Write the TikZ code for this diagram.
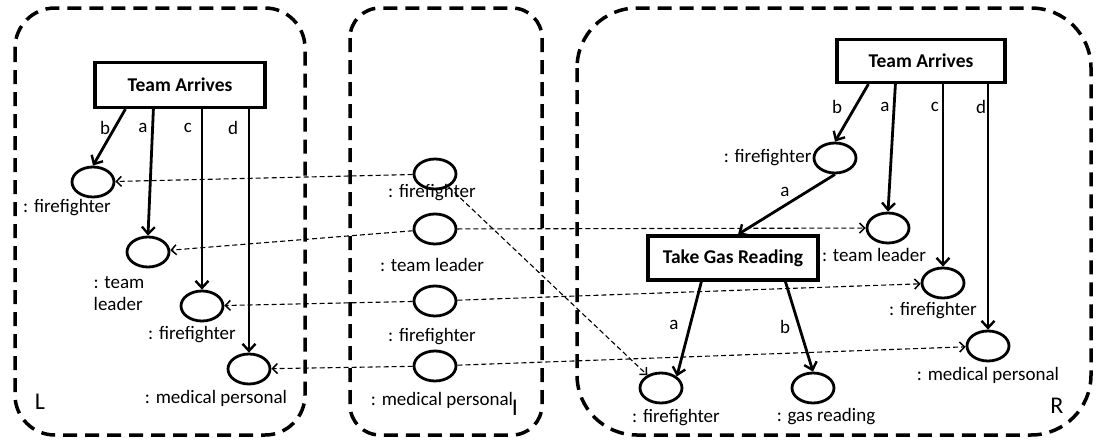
\documentclass[tikz,border=0pt]{standalone}
\usepackage{fontspec}
\setmainfont{Carlito}
\usetikzlibrary{shapes.geometric,arrows.meta}

\begin{document}
\begin{tikzpicture}
  [x=1pt,y=-1pt,font=\fontsize{19}{22}\selectfont,
   every node/.style={inner sep=1pt},
   obj/.style={ellipse,draw,line width=2.8pt,minimum width=42pt,minimum height=30pt,inner sep=0pt},
   act/.style={rectangle,draw,line width=3.2pt,font=\fontsize{19.5}{22}\selectfont\bfseries},
   flow/.style={line width=2.8pt,-{Straight Barb[length=7pt,width=13pt,line width=2.4pt]}},
   map/.style={line width=1.1pt,dash pattern=on 5pt off 3pt,-{Straight Barb[length=5pt,width=10pt,line width=1.5pt]}},
   region/.style={line width=3.5pt,dash pattern=on 14pt off 8pt},
   side/.style={font=\fontsize{24}{26}\selectfont}]
  \useasboundingbox (0,0) rectangle (1097,439);

  % L
  \draw[region,rounded corners=40pt] (15,8) rectangle (305,435);
  \node[act,minimum width=170pt,minimum height=45pt] (taL) at (180,85) {Team Arrives};
  \node[obj] (ffL1) at (93,182) {};
  \node[obj] (tlL)  at (148,252) {};
  \node[obj] (ffL2) at (202,306) {};
  \node[obj] (mpL)  at (249,369) {};
  \node (ffL1t) at (67,208) {: firefighter};
  \node[align=left] (tlLt) at (119,294) {: team\\leader};
  \node (ffL2t) at (192,335) {: firefighter};
  \node (mpLt) at (216,398) {: medical personal};
  \node[side] (nL) at (40,402) {L};
  \node (eLb) at (105,128) {b};
  \node (eLa) at (143,128) {a};
  \node (eLc) at (188,128) {c};
  \node (eLd) at (233,128) {d};
  \draw[flow] ([xshift=32pt]taL.south west) -- (ffL1.north);
  \draw[flow] ([xshift=60pt]taL.south west) -- (tlL.north);
  \draw[flow] (taL.south -| ffL2) -- (ffL2.north);
  \draw[flow] (taL.south -| mpL) -- (mpL.north);

  % I
  \draw[region,rounded corners=30pt] (350,8) rectangle (542,435);
  \node[obj] (ffI1) at (435,174) {};
  \node[obj] (tlI)  at (435,229) {};
  \node[obj] (ffI2) at (435,301) {};
  \node[obj] (mpI)  at (435,366) {};
  \node (ffI1t) at (432,193) {: firefighter};
  \node (tlIt) at (432,265) {: team leader};
  \node (ffI2t) at (432,337) {: firefighter};
  \node (mpIt) at (442,400) {: medical personal};
  \node[side] (nI) at (515,408) {I};

  % R
  \draw[region,rounded corners=60pt] (577,8) rectangle (1091,435);
  \node[act,minimum width=168pt,minimum height=43pt] (taR) at (921,61) {Team Arrives};
  \node[obj] (ffR1) at (835,158) {};
  \node[obj] (tlR)  at (888,228) {};
  \node[obj] (ffR2) at (943,283) {};
  \node[obj] (mpR)  at (988,346) {};
  \node[act,minimum width=170pt,minimum height=44pt] (tgR) at (733,258) {Take Gas Reading};
  \node[obj] (ffR3) at (661,388) {};
  \node[obj] (grR)  at (813,388) {};
  \node[anchor=east] (ffR1t) at (ffR1.west) {: firefighter};
  \node (tlRt) at (874,255) {: team leader};
  \node (ffR2t) at (933,311) {: firefighter};
  \node (mpRt) at (988,375) {: medical personal};
  \node (ffR3t) at (676,418) {: firefighter};
  \node (grRt) at (826,417) {: gas reading};
  \node[side] (nR) at (1057,406) {R};
  \node (eRb) at (837,107) {b};
  \node (eRa) at (885,107) {a};
  \node (eRc) at (935,107) {c};
  \node (eRd) at (981,107) {d};
  \node (eRa2) at (785,192) {a};
  \node (eRa3) at (674,325) {a};
  \node (eRb2) at (785,327) {b};
  \draw[flow] ([xshift=33pt]taR.south west) -- (ffR1.north);
  \draw[flow] ([xshift=60pt]taR.south west) -- (tlR.north);
  \draw[flow] (taR.south -| ffR2) -- (ffR2.north);
  \draw[flow] (taR.south -| mpR) -- (mpR.north);
  \draw[flow] (ffR1.south) -- ([xshift=5pt]tgR.north);
  \draw[flow] ([xshift=55pt]tgR.south west) -- (ffR3.north east);
  \draw[flow] ([xshift=139pt]tgR.south west) -- (grR.north);

  \foreach \from/\to in {ffI1/ffL1,tlI/tlL,ffI2/ffL2,mpI/mpL,tlI/tlR,ffI2/ffR2,mpI/mpR,ffI1/ffR3}
    \draw[map] (\from) -- (\to);

\end{tikzpicture}
\end{document}
